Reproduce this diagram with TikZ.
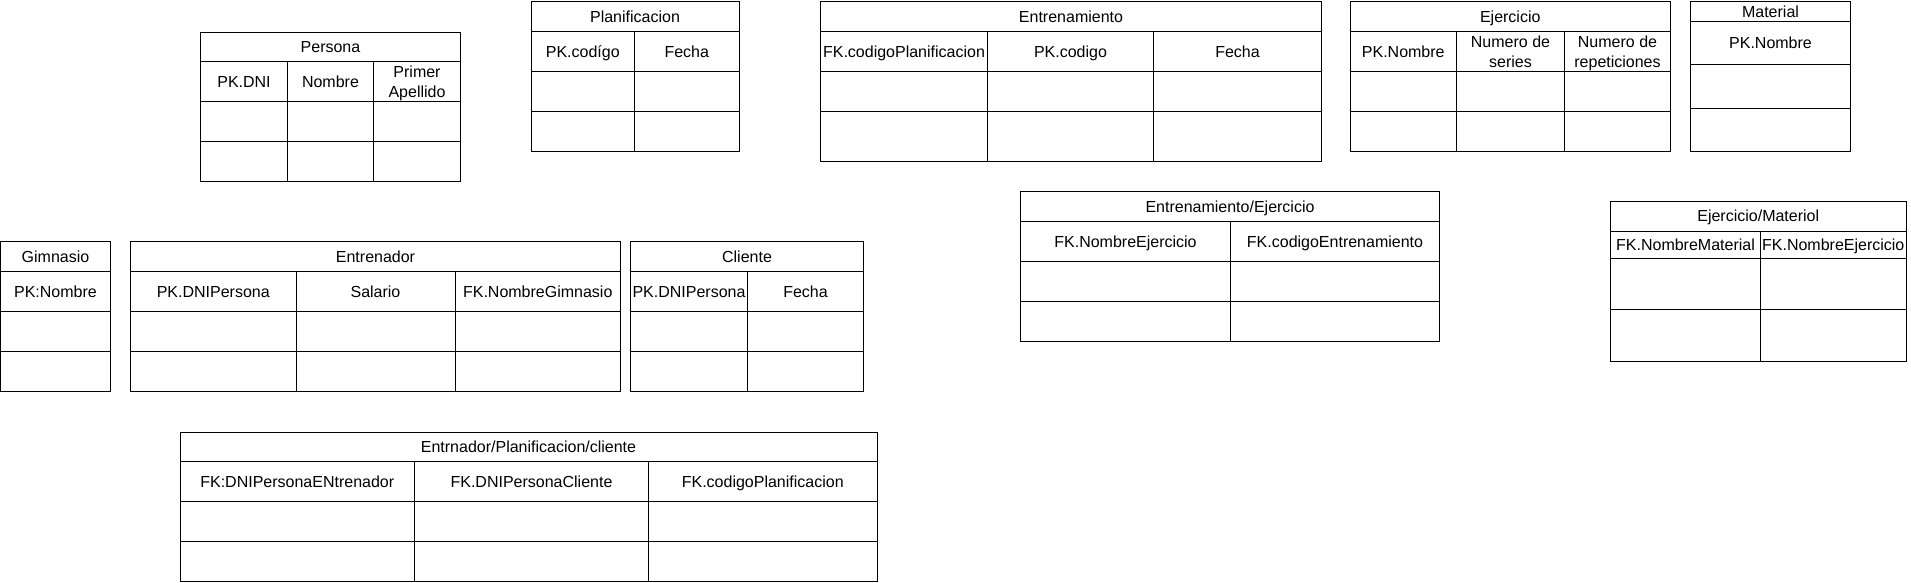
\documentclass[tikz,border=0pt]{standalone}
\usepackage{fontspec}
\setmainfont{Liberation Sans}
\newcommand{\mystrut}{\rule[-4pt]{0pt}{19pt}}
\newcommand{\brk}{\\\mystrut}
\tikzset{
  cellbox/.style={draw=black, line width=1pt, inner sep=0pt, align=center,
    font=\fontsize{16}{18.3}\selectfont, text=black}
}
\newcommand{\ercell}[6]{%
  \node[cellbox, minimum width={(#4-#2)*1pt}, minimum height={(#5-#3)*1pt}]
    (#1) at ({(#2+#4)/2},{(#3+#5)/2}) {\lineskiplimit=-100pt\relax\mystrut#6};}
\def\parsexs#1/#2\relax{\def\xa{#1}\def\xb{#2}}
\def\parseys#1/#2/#3/#4/#5\relax{\def\ya{#1}\def\yb{#2}\def\yc{#3}\def\yd{#4}\def\ye{#5}}
\newcommand{\ertable}[5]{%
  \parsexs#2\relax
  \parseys#3\relax
  \ercell{#1-title}{\xa}{\ya}{\xb}{\yb}{#4}
  \foreach \a/\b/\t [count=\i] in {#5} {
    \ercell{#1-h\i}{\a}{\yb}{\b}{\yc}{\t}
    \ercell{#1-r1c\i}{\a}{\yc}{\b}{\yd}{}
    \ercell{#1-r2c\i}{\a}{\yd}{\b}{\ye}{}
  }%
}
\begin{document}
\begin{tikzpicture}[x=1pt,y=-1pt]
\useasboundingbox (0,0) rectangle (1911,582);

\ertable{persona}{200.5/460.5}{32/61.5/101.5/141.5/181.5}{Persona}
  {200.5/287.5/PK.DNI, 287.5/373.5/Nombre, 373.5/460.5/Primer\brk Apellido}

\ertable{planif}{531/739}{1.5/31.5/71.5/111.5/151.5}{Planificacion}
  {531/634.5/PK.codígo, 634.5/739/Fecha}

\ertable{entren}{820.5/1321.5}{1.5/31.5/71.5/111.5/161.5}{Entrenamiento}
  {820.5/987.5/FK.codigoPlanificacion, 987.5/1153.5/PK.codigo, 1153.5/1321.5/Fecha}

\ertable{ejerc}{1350/1670.5}{1.5/31.5/71.5/111.5/151.5}{Ejercicio}
  {1350/1456.5/PK.Nombre, 1456.5/1564.5/Numero de\brk series, 1564.5/1670.5/Numero de\brk repeticiones}

\ertable{material}{1690.5/1850.5}{1.5/21.5/64.5/108.5/151.5}{Material}
  {1690.5/1850.5/PK.Nombre}

\ertable{gimnasio}{0.5/110.5}{241.5/271.5/311.5/351.5/391.5}{Gimnasio}
  {0.5/110.5/PK:Nombre}

\ertable{entrenador}{130.5/620.5}{241.5/271.5/311.5/351.5/391.5}{Entrenador}
  {130.5/296/PK.DNIPersona, 296/455/Salario, 455/620.5/FK.NombreGimnasio}

\ertable{cliente}{630.5/863.5}{241.5/271.5/311.5/351.5/391.5}{Cliente}
  {630.5/747.5/PK.DNIPersona, 747.5/863.5/Fecha}

\ertable{entejer}{1020.5/1439.5}{191.5/221.5/261.5/301.5/341.5}{Entrenamiento/Ejercicio}
  {1020.5/1230.5/FK.NombreEjercicio, 1230.5/1439.5/FK.codigoEntrenamiento}

\ertable{ejermat}{1610.5/1906}{201.5/231/258/309.5/361}{Ejercicio/Materiol}
  {1610.5/1760.5/FK.NombreMaterial, 1760.5/1906/FK.NombreEjercicio}

\ertable{entplancli}{180/877}{432/461.5/501.5/541/581}{Entrnador/Planificacion/cliente}
  {180/414.5/FK:DNIPersonaENtrenador, 414.5/648.5/FK.DNIPersonaCliente, 648.5/877/FK.codigoPlanificacion}
\end{tikzpicture}
\end{document}
